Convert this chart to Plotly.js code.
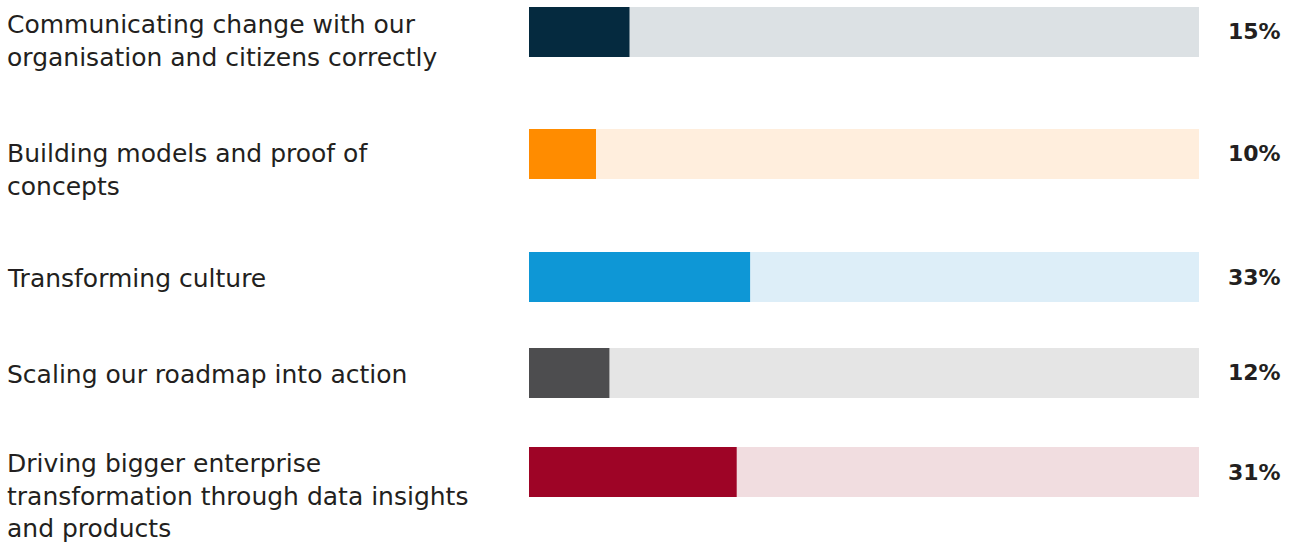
<!DOCTYPE html>
<html>
<head>
<meta charset="utf-8">
<script src="https://cdn.plot.ly/plotly-3.0.1.min.js"></script>
<style>html,body{margin:0;padding:0;background:#fff;}#chart{width:1294px;height:543px;}</style>
</head>
<body>
<div id="chart"></div>
<script>
// ---- data ----
var categories = [
  "Communicating change with our<br>organisation and citizens correctly",
  "Building models and proof of<br>concepts",
  "Transforming culture",
  "Scaling our roadmap into action",
  "Driving bigger enterprise<br>transformation through data insights<br>and products"
];
var values = [15, 10, 33, 12, 31];
var totals = [100, 100, 100, 100, 100];
var valueLabels = ["15%", "10%", "33%", "12%", "31%"];

// ---- styles / layout ----
(function () {
  var fgColors = ["#052a3f", "#ff8c00", "#0e97d6", "#4d4d4f", "#9e0426"];
  var bgColors = ["#dce1e4", "#ffeedd", "#ddeef8", "#e5e5e5", "#f1dde0"];
  var W = 1294, H = 543;
  var barTops = [7, 129, 252, 348, 447];
  var barH = 50;
  var labelShift = [-9, -16, -1, -2, -24];
  var mL = 529, mR = W - 1199;
  var fontFam = "'DejaVu Sans', 'Open Sans', sans-serif";

  var traces = [];
  var layout = {
    width: W, height: H,
    margin: {l: mL, r: mR, t: 0, b: 0, pad: 0},
    paper_bgcolor: "#fff", plot_bgcolor: "#fff",
    barmode: "overlay",
    showlegend: false,
    xaxis: {range: [0, 100], visible: false, fixedrange: true},
    annotations: []
  };

  for (var i = 0; i < categories.length; i++) {
    var ax = i === 0 ? "y" : "y" + (i + 1);
    var axKey = i === 0 ? "yaxis" : "yaxis" + (i + 1);
    var barTop = barTops[i], barBot = barTop + barH;
    layout[axKey] = {
      domain: [(H - barBot) / H, (H - barTop) / H],
      range: [-0.5, 0.5], visible: false, fixedrange: true,
      type: "category", anchor: "x"
    };
    traces.push({
      type: "bar", orientation: "h", x: [totals[i]], y: [categories[i]],
      yaxis: ax, width: 1, marker: {color: bgColors[i], line: {width: 0}},
      hoverinfo: "skip"
    });
    traces.push({
      type: "bar", orientation: "h", x: [values[i]], y: [categories[i]],
      yaxis: ax, width: 1, marker: {color: fgColors[i], line: {width: 0}},
      hoverinfo: "skip"
    });
    layout.annotations.push({
      xref: "paper", yref: ax, x: (6 - mL) / (W - mL - mR), y: categories[i],
      yshift: labelShift[i], borderpad: 0,
      text: categories[i], showarrow: false, xanchor: "left", yanchor: "middle",
      align: "left", font: {family: fontFam, size: 25, color: "#231f20"}
    });
    layout.annotations.push({
      xref: "x", yref: ax, x: totals[i], y: categories[i], xshift: 27,
      text: "<b>" + valueLabels[i] + "</b>", showarrow: false,
      xanchor: "left", yanchor: "middle",
      font: {family: fontFam, size: 22, color: "#231f20"}
    });
  }

  Plotly.newPlot("chart", traces, layout, {displayModeBar: false, staticPlot: true});
})();
</script>
</body>
</html>
